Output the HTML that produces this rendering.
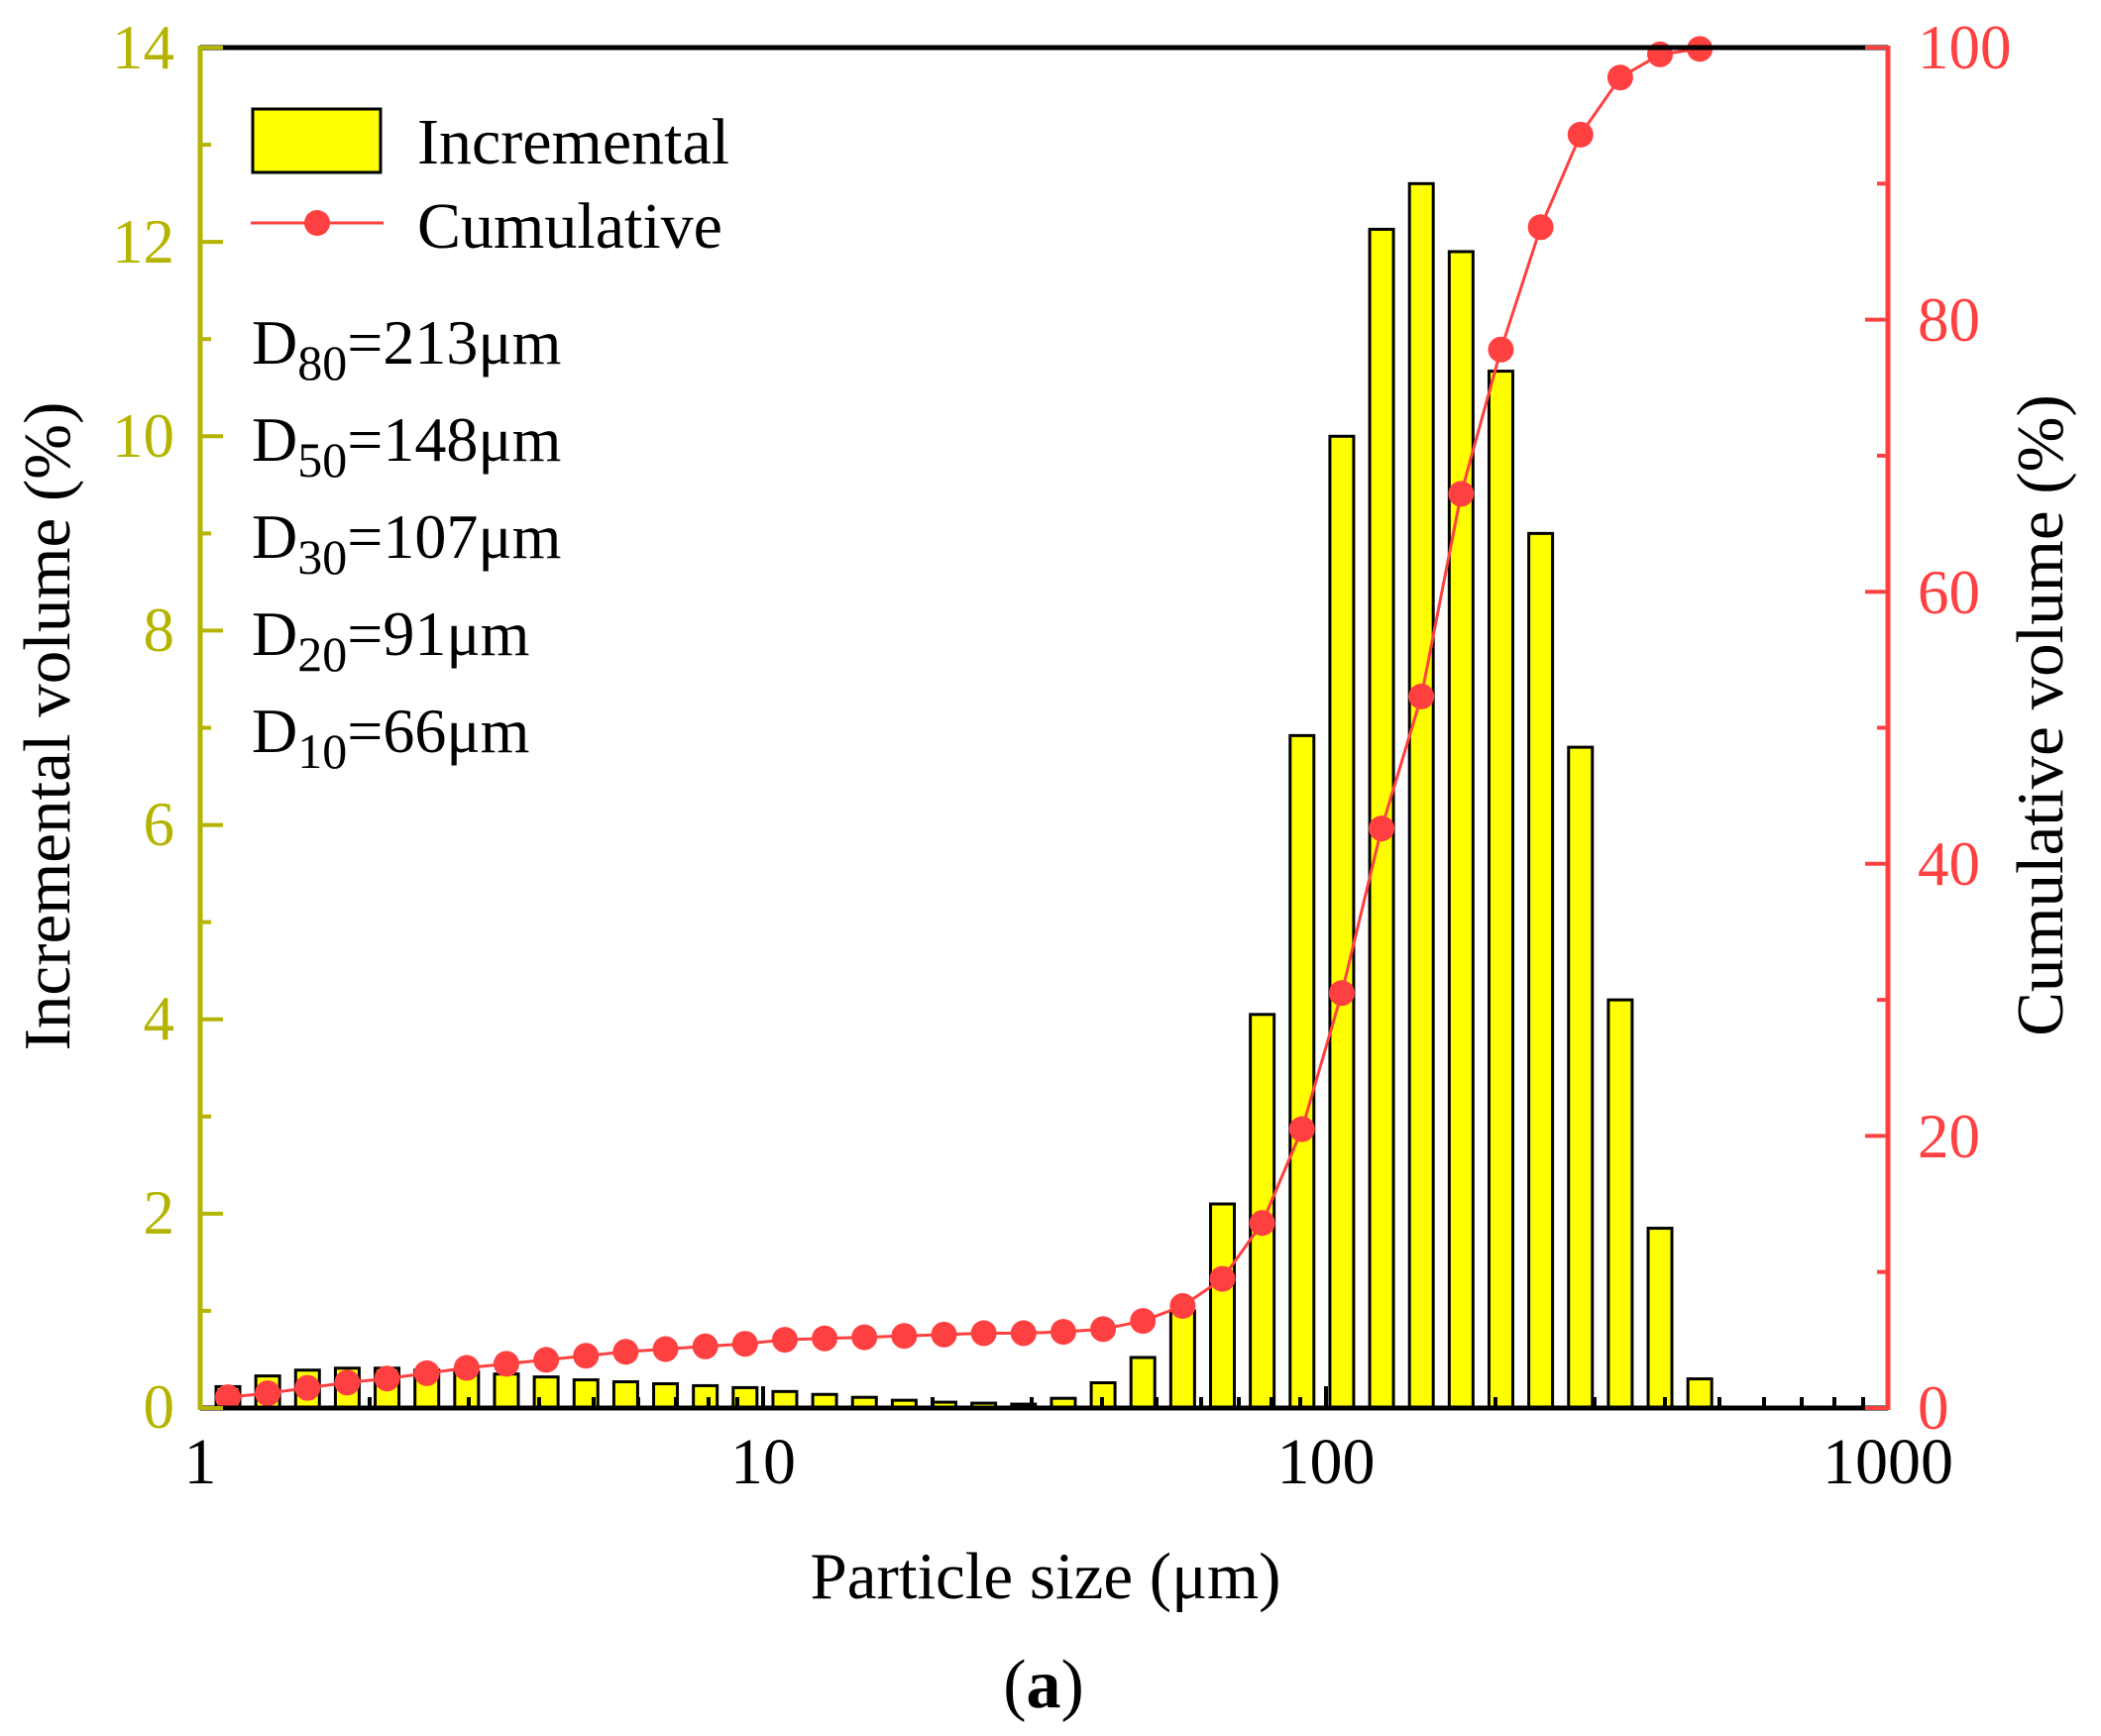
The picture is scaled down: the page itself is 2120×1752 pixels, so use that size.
<!DOCTYPE html>
<html><head><meta charset="utf-8"><style>
html,body{margin:0;padding:0;background:#fff;}
svg{display:block;font-family:"Liberation Serif",serif;}
</style></head><body>
<svg id="s" width="2120" height="1752" viewBox="0 0 2120 1752" xmlns="http://www.w3.org/2000/svg">
<rect width="2120" height="1752" fill="#fff"/>
<g id="bars"></g>
<g id="cum"></g>
<g id="axes"></g>
<g fill="#b4b400" font-size="63" text-anchor="end">
<text x="176" y="69">14</text>
<text x="176" y="265">12</text>
<text x="176" y="461">10</text>
<text x="176" y="657">8</text>
<text x="176" y="853">6</text>
<text x="176" y="1049">4</text>
<text x="176" y="1245">2</text>
<text x="176" y="1441">0</text>
</g>
<g fill="#ff4040" font-size="63" text-anchor="start">
<text x="1935" y="69">100</text>
<text x="1935" y="344">80</text>
<text x="1935" y="619">60</text>
<text x="1935" y="893">40</text>
<text x="1935" y="1168">20</text>
<text x="1935" y="1442">0</text>
</g>
<g fill="#000" font-size="66" text-anchor="middle">
<text x="202" y="1497">1</text>
<text x="770" y="1497">10</text>
<text x="1338" y="1497">100</text>
<text x="1905" y="1497">1000</text>
</g>
<text x="1055" y="1613" font-size="67" text-anchor="middle">Particle size (μm)</text>
<text x="1053" y="1723" font-size="70" text-anchor="middle">(<tspan font-weight="bold">a</tspan>)</text>
<text transform="translate(70,733) rotate(-90)" font-size="67" text-anchor="middle">Incremental volume (%)</text>
<text transform="translate(2081,722) rotate(-90)" font-size="67" text-anchor="middle">Cumulative volume (%)</text>
<rect x="255" y="110" width="129" height="64" fill="#ffff00" stroke="#000" stroke-width="3"/>
<text x="421" y="165" font-size="66">Incremental</text>
<line x1="253" y1="225" x2="387" y2="225" stroke="#ff4040" stroke-width="3"/>
<ellipse cx="320" cy="225" rx="13" ry="13" fill="#ff4040"/>
<text x="421" y="250" font-size="66">Cumulative</text>
<g font-size="64">
<text x="254" y="367">D<tspan font-size="50" dy="16">80</tspan><tspan dy="-16">=213μm</tspan></text>
<text x="254" y="465">D<tspan font-size="50" dy="16">50</tspan><tspan dy="-16">=148μm</tspan></text>
<text x="254" y="563">D<tspan font-size="50" dy="16">30</tspan><tspan dy="-16">=107μm</tspan></text>
<text x="254" y="661">D<tspan font-size="50" dy="16">20</tspan><tspan dy="-16">=91μm</tspan></text>
<text x="254" y="759">D<tspan font-size="50" dy="16">10</tspan><tspan dy="-16">=66μm</tspan></text>
</g>
</svg>
<script>
(function(){
var NS="http://www.w3.org/2000/svg";
function el(p,t,a){var e=document.createElementNS(NS,t);for(var k in a)e.setAttribute(k,a[k]);p.appendChild(e);return e;}
var L=202,R=1905,T=48,B=1421,dec=568;
var inc=[0.22,0.33,0.39,0.41,0.41,0.39,0.37,0.35,0.32,0.29,0.27,0.25,0.23,0.21,0.17,0.14,0.11,0.08,0.06,0.05,0.04,0.1,0.26,0.52,1.0,2.1,4.05,6.92,10.0,12.13,12.6,11.9,10.67,9.0,6.8,4.2,1.85,0.3];
var cum=[0.79,1.08,1.48,1.87,2.17,2.56,2.95,3.25,3.54,3.84,4.13,4.33,4.53,4.72,5.02,5.12,5.2,5.3,5.4,5.5,5.5,5.6,5.8,6.4,7.5,9.5,13.6,20.5,30.5,42.6,52.3,67.2,77.8,86.8,93.6,97.8,99.5,99.9];
var bars=document.getElementById("bars"),cg=document.getElementById("cum"),ax=document.getElementById("axes");
var uy=(B-T)/14, py=(B-T)/100;
function X(k){return 230+40.14*k;}
for(var k=0;k<inc.length;k++){
 var cx=X(k), h=inc[k]*uy;
 el(bars,"rect",{x:cx-12,y:B-h,width:24,height:h,fill:"#ffff00",stroke:"#000","stroke-width":3});
}
var pts=[];
for(var k=0;k<cum.length;k++){pts.push(X(k)+","+(B-cum[k]*py));}
el(cg,"polyline",{points:pts.join(" "),fill:"none",stroke:"#ff4040","stroke-width":3});
for(var k=0;k<cum.length;k++){el(cg,"ellipse",{cx:X(k),cy:B-cum[k]*py,rx:13,ry:13,fill:"#ff4040"});}
for(var d=0;d<3;d++){for(var m=1;m<=10;m++){
 var x=L+dec*(d+Math.log10(m)); if(m==1&&d>0)continue; if(d==2&&m==10)continue;
 var len=(m==1||m==10)?22:11;
 el(ax,"line",{x1:x,y1:B,x2:x,y2:B-len,stroke:"#000","stroke-width":4});
}}
el(ax,"line",{x1:L,y1:T,x2:R,y2:T,stroke:"#000","stroke-width":5});
el(ax,"line",{x1:L,y1:B,x2:R,y2:B,stroke:"#000","stroke-width":5});
el(ax,"line",{x1:L,y1:T-2,x2:L,y2:B+2,stroke:"#b4b400","stroke-width":5});
for(var v=0;v<=14;v++){var y=B-v*uy;el(ax,"line",{x1:L,y1:y,x2:L+(v%2==0?23:11),y2:y,stroke:"#b4b400","stroke-width":4});}
el(ax,"line",{x1:R,y1:T-2,x2:R,y2:B+2,stroke:"#ff4040","stroke-width":5});
for(var v=0;v<=100;v+=10){var y=B-v*py;el(ax,"line",{x1:R,y1:y,x2:R-(v%20==0?23:11),y2:y,stroke:"#ff4040","stroke-width":4});}
})();
</script>
</body></html>
